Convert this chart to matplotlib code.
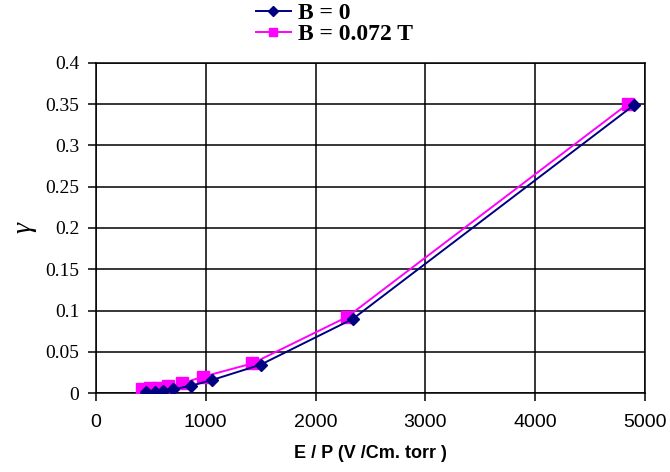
import matplotlib
matplotlib.use("Agg")
import matplotlib.pyplot as plt

# E/P values and gamma
ep_b0 = [460, 536, 609, 700, 864, 1060, 1500, 2340, 4900]
gamma_b0 = [0.0015, 0.002, 0.003, 0.0045, 0.0089, 0.016, 0.0345, 0.090, 0.349]

ep_b072 = [424, 490, 564, 655, 782, 973, 1424, 2290, 4840]
gamma_b072 = [0.0045, 0.0057, 0.0065, 0.0085, 0.0118, 0.0198, 0.036, 0.0925, 0.350]

x_ticks = [0, 1000, 2000, 3000, 4000, 5000]
y_ticks = [0, 0.05, 0.1, 0.15, 0.2, 0.25, 0.3, 0.35, 0.4]
y_tick_labels = ["0", "0.05", "0.1", "0.15", "0.2", "0.25", "0.3", "0.35", "0.4"]

fig = plt.figure(figsize=(6.7, 4.72), dpi=100)
ax = fig.add_axes([0.143, 0.167, 0.820, 0.700])

ax.plot(ep_b0, gamma_b0, color="#000080", marker="D", markersize=6,
        linewidth=1.4, label="B = 0", zorder=4)
ax.plot(ep_b072, gamma_b072, color="#FF00FF", marker="s", markersize=8,
        linewidth=1.4, label="B = 0.072 T", zorder=3)

ax.set_xlim(0, 5000)
ax.set_ylim(0, 0.4)
ax.set_xticks(x_ticks)
ax.set_yticks(y_ticks)
ax.set_yticklabels(y_tick_labels, fontfamily="Liberation Serif", fontsize=14)
for lab in ax.get_xticklabels():
    lab.set_fontfamily("Liberation Sans")
    lab.set_fontsize(14)

ax.grid(True, color="black", linewidth=1.1)
ax.set_axisbelow(True)
for sp in ax.spines.values():
    sp.set_color("black")
    sp.set_linewidth(1.1)
ax.tick_params(direction="out", length=6, width=1.1)
ax.tick_params(axis="y", pad=6)
ax.tick_params(axis="x", pad=9)

ax.set_xlabel("E / P (V /Cm. torr )", fontfamily="Liberation Sans",
              fontweight="bold", fontsize=13, labelpad=10)
ax.set_ylabel("\u03b3", fontfamily="Liberation Serif", fontstyle="italic",
              fontsize=20, rotation=90, labelpad=6)

fig.legend(loc="upper left", bbox_to_anchor=(0.35, 1.04), frameon=False,
           handlelength=1.5, handletextpad=0.3, labelspacing=0.0,
           markerscale=0.8,
           prop={"family": "Liberation Serif", "weight": "bold", "size": 17})

fig.savefig("out.png", dpi=100)
